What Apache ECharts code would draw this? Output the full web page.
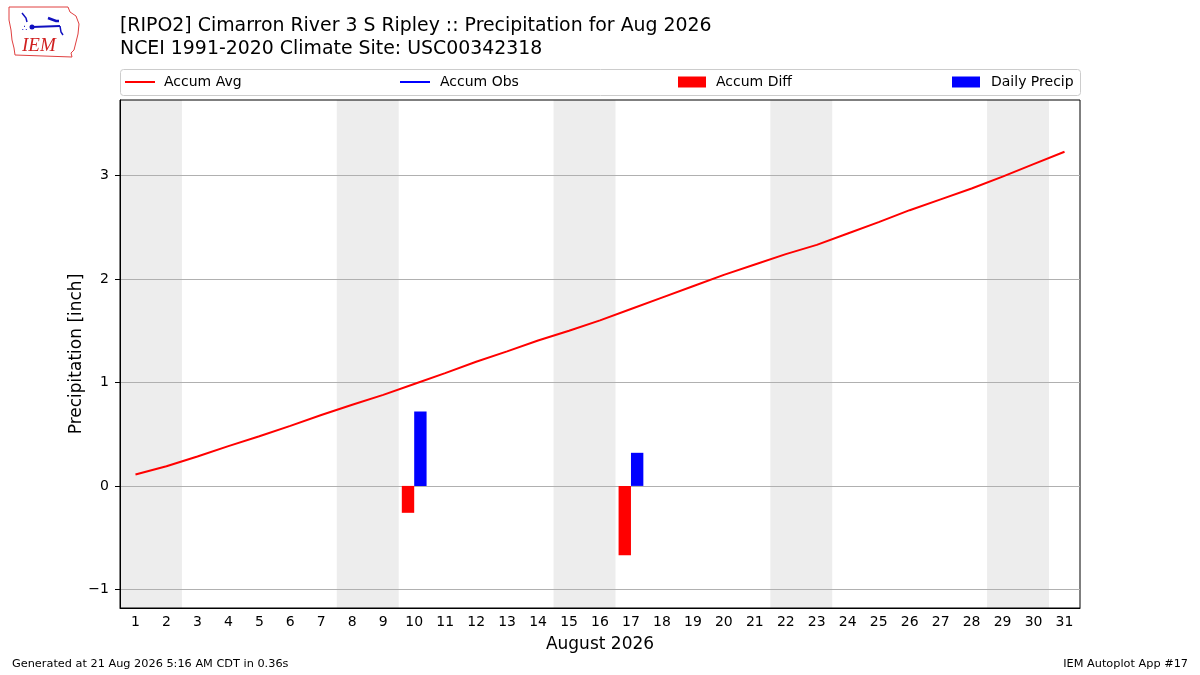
<!DOCTYPE html>
<html>
<head>
<meta charset="utf-8">
<script src="https://cdn.jsdelivr.net/npm/echarts@6/dist/echarts.min.js"></script>
<style>html,body{margin:0;padding:0;background:#fff}#c{width:1200px;height:675px}</style>
</head>
<body>
<div id="c"></div>
<script>
const days = ['1','2','3','4','5','6','7','8','9','10','11','12','13','14','15','16','17','18','19','20','21','22','23','24','25','26','27','28','29','30','31'];
const accumAvg = [0.11,0.19,0.285,0.385,0.48,0.58,0.685,0.785,0.88,0.985,1.09,1.20,1.30,1.405,1.50,1.60,1.71,1.82,1.93,2.04,2.14,2.24,2.33,2.44,2.55,2.665,2.77,2.875,2.99,3.11,3.23];
const accumObs = [];
const accumDiff = [null,null,null,null,null,null,null,null,null,-0.26,null,null,null,null,null,null,-0.67,null,null,null,null,null,null,null,null,null,null,null,null,null,null];
const dailyPrecip = [null,null,null,null,null,null,null,null,null,0.72,null,null,null,null,null,null,0.32,null,null,null,null,null,null,null,null,null,null,null,null,null,null];
const weekendBands = [[0.5,2.5],[7.5,9.5],[14.5,16.5],[21.5,23.5],[28.5,30.5]];
const yTicks = [-1,0,1,2,3];

const font = 'DejaVu Sans';
const chart = echarts.init(document.getElementById('c'), null, {renderer:'canvas'});
const fmtY = v => (v < 0 ? '\u2212' + Math.abs(v) : String(v));

function legendFor(name, left, w, h, padLeft) {
  return {
    left: left, top: 75, itemWidth: w, itemHeight: h, icon: 'rect',
    data: [{name: name, icon: 'rect'}],
    textStyle: {fontFamily: font, fontSize: 14, color: '#000', padding: [0,0,0,padLeft]},
    padding: 0, selectedMode: false
  };
}

chart.setOption({
  animation: false,
  backgroundColor: '#fff',
  textStyle: {fontFamily: font},
  title: {
    text: '[RIPO2] Cimarron River 3 S Ripley :: Precipitation for Aug 2026\nNCEI 1991-2020 Climate Site: USC00342318',
    left: 120, top: 15, padding: 0,
    textStyle: {fontFamily: font, fontSize: 18.9, fontWeight: 'normal', color: '#000', lineHeight: 23}
  },
  legend: [
    legendFor('Accum Avg', 125, 30, 2, 4),
    legendFor('Accum Obs', 400, 30, 2, 5),
    legendFor('Accum Diff', 678, 28, 11, 5),
    legendFor('Daily Precip', 952, 28, 11, 6)
  ],
  grid: {left: 120, right: 120, top: 100, bottom: 67, show: true, borderColor: '#000', borderWidth: 1, backgroundColor: 'transparent'},
  xAxis: [{
    type: 'category', data: days, boundaryGap: true,
    name: 'August 2026', nameLocation: 'middle', nameGap: 28,
    nameTextStyle: {fontFamily: font, fontSize: 17, color: '#000'},
    axisLine: {onZero: false, lineStyle: {color: '#000'}},
    axisTick: {alignWithLabel: true, length: 5, lineStyle: {color: '#000'}},
    axisLabel: {fontFamily: font, fontSize: 14, color: '#000', margin: 7, interval: 0},
    splitLine: {show: false}
  }, {
    type: 'value', min: 0.5, max: 31.5, show: false
  }],
  yAxis: {
    type: 'value', min: -1.18, max: 3.73,
    name: 'Precipitation [inch]', nameLocation: 'middle', nameGap: 35, nameMoveOverlap: false,
    nameTextStyle: {fontFamily: font, fontSize: 17, color: '#000'},
    axisLine: {show: true, onZero: false, lineStyle: {color: '#000'}},
    axisTick: {show: true, length: 5, customValues: yTicks, lineStyle: {color: '#000'}},
    axisLabel: {fontFamily: font, fontSize: 14, color: '#000', margin: 11, customValues: yTicks, formatter: fmtY},
    splitLine: {show: true, lineStyle: {color: '#b0b0b0', width: 1}}
  },
  series: [
    {
      name: 'shade', type: 'line', xAxisIndex: 1, data: [[0.5, 0]], showSymbol: false, z: -1,
      lineStyle: {opacity: 0}, silent: true,
      markArea: {silent: true, z: -1, itemStyle: {color: '#ededed'},
        data: weekendBands.map(b => [{xAxis: b[0]}, {xAxis: b[1]}])}
    },
    {name: 'Accum Avg', type: 'line', data: accumAvg, showSymbol: false, color: '#ff0000', lineStyle: {color: '#ff0000', width: 2}, z: 5},
    {name: 'Accum Obs', type: 'line', data: accumObs, showSymbol: false, color: '#0000ff', lineStyle: {color: '#0000ff', width: 2}},
    {name: 'Accum Diff', type: 'bar', data: accumDiff, barWidth: '40%', barGap: '0%', color: '#ff0000', itemStyle: {color: '#ff0000'}},
    {name: 'Daily Precip', type: 'bar', data: dailyPrecip, barWidth: '40%', barGap: '0%', color: '#0000ff', itemStyle: {color: '#0000ff'}}
  ],
  graphic: [
    {type: 'rect', left: 120, top: 69, shape: {width: 960, height: 26, r: 3}, style: {fill: '#fff', stroke: '#cccccc', lineWidth: 1}, z: -10},
    {type: 'text', left: 12, top: 659, style: {text: 'Generated at 21 Aug 2026 5:16 AM CDT in 0.36s', font: '11.3px "DejaVu Sans"', fill: '#000'}},
    {type: 'text', right: 12, top: 659, style: {text: 'IEM Autoplot App #17', font: '11.3px "DejaVu Sans"', fill: '#000'}},
    {type: 'polyline', shape: {points: [[9,7],[68,7],[70,12],[76,16],[79,24],[78,34],[76,42],[74,50],[71,53],[72,57],[15,55],[14,48],[12,40],[11,30],[9,20],[9,7]]}, style: {stroke: '#e04040', fill: 'none', lineWidth: 1}},
    {type: 'text', left: 22, top: 36, style: {text: 'IEM', font: 'italic 19px "Liberation Serif"', fill: '#d02020'}},
    {type: 'polyline', shape: {points: [[32,27],[60,26]]}, style: {stroke: '#1010c0', lineWidth: 2}},
    {type: 'circle', shape: {cx: 32, cy: 27, r: 2.5}, style: {fill: '#1010c0'}},
    {type: 'polyline', shape: {points: [[48,18],[56,21],[59,21]]}, style: {stroke: '#1010c0', lineWidth: 2.5}},
    {type: 'polyline', shape: {points: [[60,26],[61,32],[63,35]]}, style: {stroke: '#1010c0', lineWidth: 1.5}},
    {type: 'polyline', shape: {points: [[22,13],[26,18],[27,22]]}, style: {stroke: '#1010c0', lineWidth: 1.5}},
    {type: 'text', left: 22, top: 24, style: {text: '∴', font: '9px "DejaVu Sans"', fill: '#1010c0'}}
  ]
});
</script>
</body>
</html>
